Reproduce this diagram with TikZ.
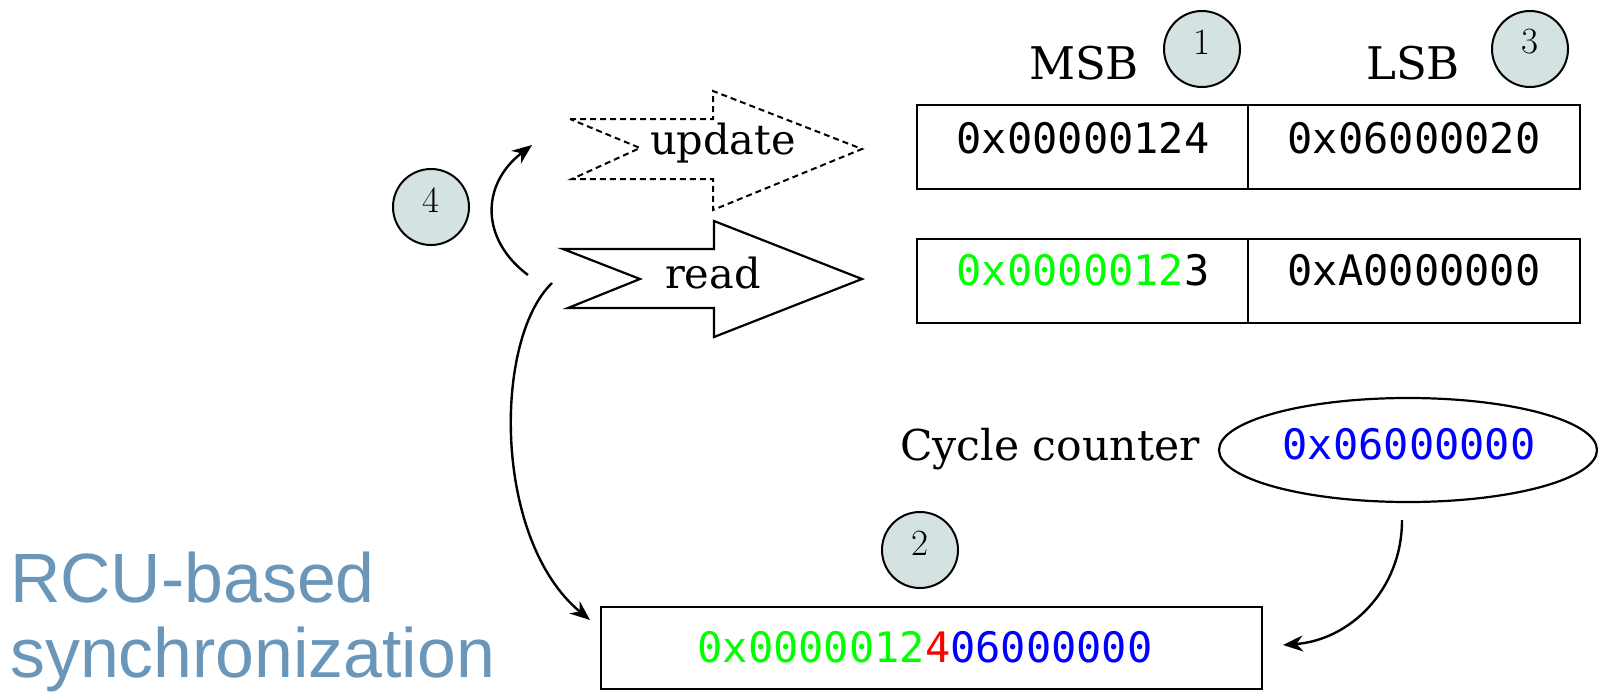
\documentclass[tikz,border=0pt]{standalone}
\usepackage{fontspec}
\usetikzlibrary{arrows.meta,shapes.geometric}
\newfontfamily\dvserif{DejaVu Serif}
\newfontfamily\dvmono{DejaVu Sans Mono}
\newfontfamily\lsans{Liberation Sans}
\definecolor{badgefill}{RGB}{213,226,226}
\definecolor{titleblue}{RGB}{106,150,186}
\definecolor{hexgreen}{RGB}{0,255,0}
\definecolor{hexred}{RGB}{255,0,0}
\definecolor{hexblue}{RGB}{0,0,255}
\tikzset{
  cell/.style={draw, line width=1.9pt, inner sep=0pt, minimum height=84pt},
  hex/.style={font=\dvmono\fontsize{42}{50}\selectfont, anchor=base, inner sep=0pt},
  word/.style={font=\dvserif\fontsize{41.5}{49}\selectfont, anchor=base, inner sep=0pt},
  head/.style={font=\dvserif\fontsize{45}{54}\selectfont, anchor=base, inner sep=0pt},
  badge/.style={circle, draw, fill=badgefill, line width=2pt, minimum size=76pt, inner sep=0pt},
  digit/.style={font=\fontsize{37}{44}\selectfont, inner sep=0pt},
  flow/.style={-{Stealth[length=20pt,width=16pt]}, line width=2.4pt},
  title/.style={font=\lsans\fontsize{69.8}{75}\selectfont, text=titleblue, anchor=base west, inner sep=0pt},
}
\begin{document}
\begin{tikzpicture}[x=1pt,y=-1pt]
\useasboundingbox (0,0) rectangle (1598,693);

% column headings and their step badges
\node[head] (msb) at (1084,79) {MSB};
\node[head] (lsb) at (1413,79) {LSB};
\node[badge] (b1) at (1202,49) {};
\node[digit] (b1t) at ([yshift=7pt]b1.center) {1};
\node[badge] (b3) at (1530,49) {};
\node[digit] (b3t) at ([yshift=7pt]b3.center) {3};

% the two copies of the 64-bit value
\node[cell, minimum width=331pt] (u1) at (1082.5,147) {};
\node[cell, minimum width=332pt] (u2) at (1414,147) {};
\node[hex] (u1t) at (1083,153) {0x00000124};
\node[hex] (u2t) at (1414,153) {0x06000020};
\node[cell, minimum width=331pt] (r1) at (1082.5,281) {};
\node[cell, minimum width=332pt] (r2) at (1414,281) {};
\node[hex] (r1t) at (1083,285) {\textcolor{hexgreen}{0x0000012}3};
\node[hex] (r2t) at (1414,285) {0xA0000000};

% update (dashed) and read arrows
\draw[line width=2pt, dash pattern=on 6pt off 4pt]
  (570,119) -- (713,119) -- (713,91) -- (862,149) -- (713,210)
  -- (713,179) -- (572,179) -- (640,148) -- cycle;
\node[word] (upd) at (723,154) {update};
\draw[line width=2.2pt, fill=white]
  (563,249) -- (714,249) -- (714,221) -- (862,279) -- (714,337)
  -- (714,308) -- (568,308) -- (640,279) -- cycle;
\node[word] (rd) at (713,288) {read};

% retry badge
\node[badge] (b4) at (431,207) {};
\node[digit] (b4t) at ([yshift=7pt]b4.center) {4};

% cycle counter
\node[word, font=\dvserif\fontsize{42.5}{50}\selectfont] (cyc) at (1050,460) {Cycle counter};
\node[draw, ellipse, line width=2.2pt, minimum width=378pt, minimum height=104pt, inner sep=0pt] (cnt) at (1408,450) {};
\node[hex] (cntt) at (1409,459) {\textcolor{hexblue}{0x06000000}};

% combined timestamp
\node[badge] (b2) at (920,550) {};
\node[digit] (b2t) at ([yshift=7pt]b2.center) {2};
\node[cell, minimum width=661pt, minimum height=82pt] (res) at (931.5,648) {};
\node[hex] (rest) at (925,662) {\textcolor{hexgreen}{0x0000012}\textcolor{hexred}{4}\textcolor{hexblue}{06000000}};

% connectors
\coordinate (loopS) at (528,275);
\coordinate (loopE) at (532,145);
\coordinate (readS) at (552,283);
\coordinate (resIn) at (590,620);
\coordinate (cntS) at (1402,520);
\coordinate (resR) at (1283,645);
\draw[flow] (loopS) .. controls (481,240) and (480,185) .. (loopE);
\draw[flow] (readS) .. controls (493,340) and (493,540) .. (resIn);
\draw[flow] (cntS) .. controls (1402,590) and (1350,640) .. (resR);

% title
\node[title] (title1) at (10,602) {RCU-based};
\node[title] (title2) at (10,677) {synchronization};
\end{tikzpicture}
\end{document}
